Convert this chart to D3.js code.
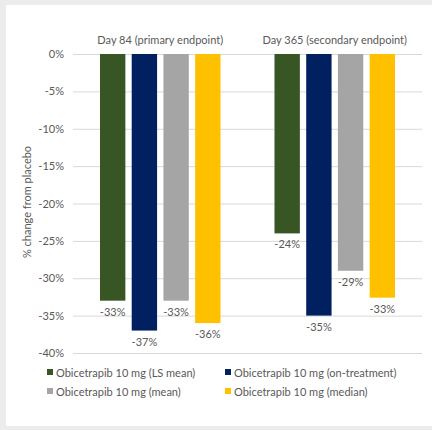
<!DOCTYPE html>
<html><head><meta charset="utf-8">
<script src="https://cdn.jsdelivr.net/npm/d3@7"></script>
<style>body{margin:0;background:#fff;}svg{display:block;}</style>
</head><body>
<script>
const categories = ["Day 84 (primary endpoint)", "Day 365 (secondary endpoint)"];
const seriesNames = ["Obicetrapib 10 mg (LS mean)", "Obicetrapib 10 mg (on-treatment)", "Obicetrapib 10 mg (mean)", "Obicetrapib 10 mg (median)"];
const lsMean = [-33, -24];
const onTreatment = [-37, -35];
const meanVals = [-33, -29];
const medianVals = [-36, -32.6];
const valueLabels = [["-33%", "-24%"], ["-37%", "-35%"], ["-33%", "-29%"], ["-36%", "-33%"]];
const yTicks = [0, -5, -10, -15, -20, -25, -30, -35, -40];
const colors = ["#375623", "#002060", "#a5a5a5", "#ffc000"];
const seriesVals = [lsMean, onTreatment, meanVals, medianVals];

const W = 432, H = 430;
const svg = d3.select("body").append("svg").attr("width", W).attr("height", H);
svg.append("rect").attr("width", W).attr("height", H).attr("fill", "#ececec");
svg.append("rect").attr("x", 6).attr("y", 5).attr("width", W - 6).attr("height", 421).attr("fill", "#fff");

const font = "Lato, 'Open Sans', sans-serif";
const txt = "#595959";
const x0 = d3.scaleBand().domain(categories).range([73, 422]).padding(0);
const x1 = d3.scaleBand().domain(d3.range(4)).range([27, 147.5]).paddingInner(0.2);
const y = d3.scaleLinear().domain([-40, 0]).range([353, 54]);

// gridlines
svg.append("g").selectAll("line").data(yTicks).join("line")
  .attr("x1", 73).attr("x2", 422)
  .attr("y1", d => y(d) + 0.5).attr("y2", d => y(d) + 0.5)
  .attr("stroke", "#d9d9d9").attr("stroke-width", 1);

// y axis labels
const yAxis = d3.axisLeft(y).tickValues(yTicks).tickFormat(d => d + "%").tickSize(0).tickPadding(0);
const ga = svg.append("g").attr("transform", "translate(64,0)").call(yAxis);
ga.select(".domain").remove();
ga.selectAll("text").attr("font-family", font).attr("font-size", 11).attr("fill", txt);

// category labels
svg.append("g").selectAll("text").data(categories).join("text")
  .attr("x", d => x0(d) + x0.bandwidth() / 2).attr("y", 44)
  .attr("text-anchor", "middle").attr("font-family", font).attr("font-size", 11).attr("fill", txt)
  .text(d => d);

// bars
seriesVals.forEach((vals, s) => {
  const g = svg.append("g");
  g.selectAll("rect").data(categories).join("rect")
    .attr("x", (c) => x0(c) + x1(s)).attr("width", x1.bandwidth())
    .attr("y", y(0)).attr("height", (c, i) => y(vals[i]) - y(0))
    .attr("fill", colors[s]);
  g.selectAll("text").data(categories).join("text")
    .attr("x", c => x0(c) + x1(s) + x1.bandwidth() / 2)
    .attr("y", (c, i) => y(vals[i]) + 15)
    .attr("text-anchor", "middle").attr("font-family", font).attr("font-size", 11).attr("fill", txt)
    .text((c, i) => valueLabels[s][i]);
});

// axis title
svg.append("text").attr("transform", "translate(31,202) rotate(-90)")
  .attr("text-anchor", "middle").attr("font-family", font).attr("font-size", 11).attr("fill", txt)
  .text("% change from placebo");

// legend
const legPos = [[47, 373], [225, 373], [47, 392], [225, 392]];
seriesNames.forEach((n, i) => {
  const [lx, ly] = legPos[i];
  svg.append("rect").attr("x", lx).attr("y", ly - 4).attr("width", 6).attr("height", 6).attr("fill", colors[i]);
  svg.append("text").attr("x", lx + 9).attr("y", ly + 3.5)
    .attr("font-family", font).attr("font-size", 11).attr("fill", txt).text(n);
});
</script>
</body></html>
